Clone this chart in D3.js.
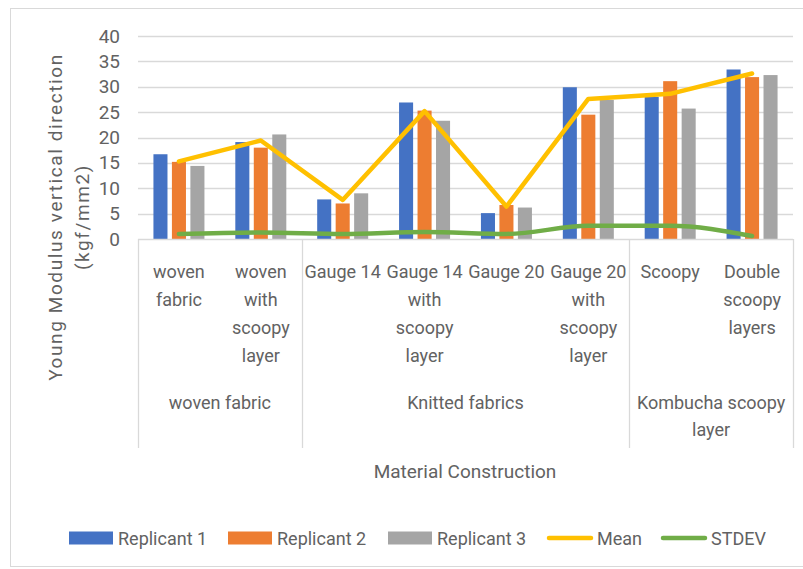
<!DOCTYPE html>
<html>
<head>
<meta charset="utf-8">
<script src="https://cdn.jsdelivr.net/npm/d3@7"></script>
<style>
  body { margin: 0; background: #fff; }
  text { font-family: Roboto, "Liberation Sans", sans-serif; fill: #626262; }
</style>
</head>
<body>
<div id="chart"></div>
<script>
// Data
const categories = ["woven fabric", "woven with scoopy layer", "Gauge 14", "Gauge 14 with scoopy layer",
    "Gauge 20", "Gauge 20 with scoopy layer", "Scoopy", "Double scoopy layers"];
const categoryLines = [
    ["woven", "fabric"],
    ["woven", "with", "scoopy", "layer"],
    ["Gauge 14"],
    ["Gauge 14", "with", "scoopy", "layer"],
    ["Gauge 20"],
    ["Gauge 20", "with", "scoopy", "layer"],
    ["Scoopy"],
    ["Double", "scoopy", "layers"]
];
const groups = [
    { lines: ["woven fabric"], from: 0, to: 1 },
    { lines: ["Knitted fabrics"], from: 2, to: 5 },
    { lines: ["Kombucha scoopy", "layer"], from: 6, to: 7 }
];
const replicant1 = [16.7, 19.1, 7.8, 26.9, 5.1, 29.9, 28.0, 33.4];
const replicant2 = [15.2, 18.0, 7.0, 25.3, 6.7, 24.5, 31.1, 31.9];
const replicant3 = [14.4, 20.6, 9.0, 23.3, 6.2, 27.4, 25.7, 32.3];
const meanValues = [15.3, 19.4, 7.7, 25.2, 6.4, 27.6, 28.6, 32.6];
const stdevValues = [1.0, 1.3, 1.0, 1.4, 1.0, 2.6, 2.6, 0.6];
const yTicks = [0, 5, 10, 15, 20, 25, 30, 35, 40];

const barSeries = [
    { name: "Replicant 1", values: replicant1, color: "#4472C4" },
    { name: "Replicant 2", values: replicant2, color: "#ED7D31" },
    { name: "Replicant 3", values: replicant3, color: "#A5A5A5" }
];
const lineSeries = [
    { name: "Mean", values: meanValues, color: "#FFC000", curve: d3.curveLinear },
    { name: "STDEV", values: stdevValues, color: "#70AD47", curve: d3.curveMonotoneX }
];

// Chart setup
const W = 803, H = 569;
const plot = { left: 138, right: 793, top: 36, bottom: 239 };

const svg = d3.select("#chart")
    .append("svg")
    .attr("width", W)
    .attr("height", H);

// outer chart border
svg.append("rect")
    .attr("x", 10.5).attr("y", 8.5)
    .attr("width", 820).attr("height", 558)
    .attr("fill", "none")
    .attr("stroke", "#d9d9d9");

const x = d3.scaleBand()
    .domain(categories)
    .range([plot.left, plot.right]);

const xInner = d3.scaleBand()
    .domain(barSeries.map(d => d.name))
    .range([-25.5, 25.5])
    .paddingInner(0.24);

const y = d3.scaleLinear()
    .domain([0, 40])
    .range([plot.bottom, plot.top]);

// gridlines
svg.append("g")
    .selectAll("line")
    .data(yTicks.filter(d => d > 0))
    .join("line")
    .attr("x1", plot.left).attr("x2", plot.right)
    .attr("y1", d => Math.round(y(d)) + 0.5)
    .attr("y2", d => Math.round(y(d)) + 0.5)
    .attr("stroke", "#d9d9d9")
    .attr("stroke-width", 1.3);

// Y axis labels
const yAxis = svg.append("g")
    .attr("transform", `translate(${plot.left - 18},0)`)
    .call(d3.axisLeft(y).tickValues(yTicks).tickSize(0).tickPadding(0));
yAxis.select(".domain").remove();
yAxis.selectAll("text")
    .style("font-size", "19px")
    .style("font-family", "Roboto, sans-serif")
    .attr("fill", "#626262");

// bars
svg.append("g")
    .selectAll("g")
    .data(barSeries)
    .join("g")
    .attr("fill", d => d.color)
    .selectAll("rect")
    .data(s => s.values.map((v, i) => ({ name: s.name, cat: categories[i], value: v })))
    .join("rect")
    .attr("x", d => x(d.cat) + x.bandwidth() / 2 + xInner(d.name))
    .attr("width", xInner.bandwidth())
    .attr("y", d => y(d.value))
    .attr("height", d => y(0) - y(d.value));

// horizontal axis line
svg.append("line")
    .attr("x1", plot.left).attr("x2", plot.right)
    .attr("y1", plot.bottom + 0.5).attr("y2", plot.bottom + 0.5)
    .attr("stroke", "#d9d9d9")
    .attr("stroke-width", 1.3);

// lines
lineSeries.forEach(s => {
    svg.append("path")
        .datum(s.values)
        .attr("fill", "none")
        .attr("stroke", s.color)
        .attr("stroke-width", 4.5)
        .attr("stroke-linejoin", "round")
        .attr("stroke-linecap", "round")
        .attr("d", d3.line()
            .x((d, i) => x(categories[i]) + x.bandwidth() / 2)
            .y(d => y(d))
            .curve(s.curve));
});

// group separators for the multi-level category axis
const sepX = [plot.left, ...groups.map(g => x(categories[g.to]) + x.bandwidth())];
svg.append("g")
    .selectAll("line")
    .data(sepX)
    .join("line")
    .attr("x1", d => Math.round(d) + 0.5).attr("x2", d => Math.round(d) + 0.5)
    .attr("y1", plot.bottom).attr("y2", 448)
    .attr("stroke", "#d9d9d9")
    .attr("stroke-width", 1.3);

// category labels
const catLabels = svg.append("g")
    .selectAll("text")
    .data(categories)
    .join("text")
    .attr("text-anchor", "middle")
    .style("font-size", "18px");
catLabels.each(function (d, i) {
    const cx = x(d) + x.bandwidth() / 2;
    d3.select(this).selectAll("tspan")
        .data(categoryLines[i])
        .join("tspan")
        .attr("x", cx)
        .attr("y", (l, j) => 278 + j * 28)
        .text(l => l);
});

// group labels
svg.append("g")
    .selectAll("text")
    .data(groups)
    .join("text")
    .attr("text-anchor", "middle")
    .style("font-size", "18px")
    .each(function (g) {
        const cx = (x(categories[g.from]) + x(categories[g.to]) + x.bandwidth()) / 2;
        d3.select(this).selectAll("tspan")
            .data(g.lines)
            .join("tspan")
            .attr("x", cx)
            .attr("y", (l, j) => 409 + j * 27)
            .text(l => l);
    });

// axis titles
svg.append("text")
    .attr("x", 465).attr("y", 478)
    .attr("text-anchor", "middle")
    .style("font-size", "19px")
    .text("Material Construction");

const yTitle = svg.append("text")
    .attr("transform", "translate(0,217) rotate(-90)")
    .attr("text-anchor", "middle")
    .style("font-size", "19px")
    .style("letter-spacing", "1.6px");
yTitle.append("tspan").attr("x", 0).attr("y", 62).text("Young Modulus vertical direction");
yTitle.append("tspan").attr("x", 0).attr("y", 89).text("(kgf/mm2)");

// legend
const legendItems = [
    { name: "Replicant 1", color: "#4472C4", type: "bar", x: 69 },
    { name: "Replicant 2", color: "#ED7D31", type: "bar", x: 228 },
    { name: "Replicant 3", color: "#A5A5A5", type: "bar", x: 388 },
    { name: "Mean", color: "#FFC000", type: "line", x: 547 },
    { name: "STDEV", color: "#70AD47", type: "line", x: 661 }
];
const legend = svg.append("g")
    .selectAll("g")
    .data(legendItems)
    .join("g")
    .attr("transform", d => `translate(${d.x},538)`);
legend.filter(d => d.type === "bar")
    .append("rect")
    .attr("x", 0).attr("y", -6.5)
    .attr("width", 44).attr("height", 13)
    .attr("fill", d => d.color);
legend.filter(d => d.type === "line")
    .append("line")
    .attr("x1", 2).attr("x2", 44)
    .attr("y1", 0).attr("y2", 0)
    .attr("stroke", d => d.color)
    .attr("stroke-width", 4.5)
    .attr("stroke-linecap", "round");
legend.append("text")
    .attr("x", d => d.type === "bar" ? 49 : 50)
    .attr("y", 7)
    .style("font-size", "18px")
    .text(d => d.name);
</script>
</body>
</html>
